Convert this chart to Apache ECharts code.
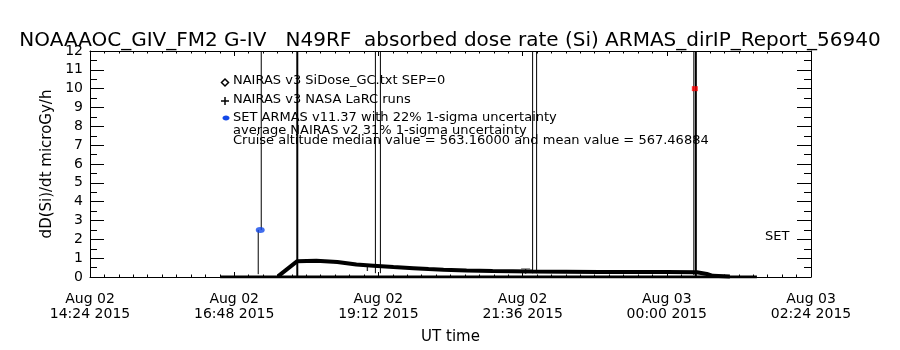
<!DOCTYPE html>
<html>
<head>
<meta charset="utf-8">
<script src="https://cdn.jsdelivr.net/npm/echarts@6/dist/echarts.min.js"></script>
<style>
html,body{margin:0;padding:0;background:#fff;}
#chart{width:900px;height:350px;}
</style>
</head>
<body>
<div id="chart"></div>
<script>
// ---------- data (times are UT, 2015) ----------
const titleText = "NOAAAOC_GIV_FM2 G-IV   N49RF  absorbed dose rate (Si) ARMAS_dirIP_Report_56940";
const yAxisName = "dD(Si)/dt microGy/h";
const xAxisName = "UT time";
const xMinTime = "08-02 14:24";
const xMaxTime = "08-03 02:24";
const xTickStepMin = 144;

// NAIRAS v3 SiDose_GC model curve
const nairasTimes = ["08-02 17:32","08-02 17:51","08-02 18:10","08-02 18:31","08-02 18:50","08-02 19:07","08-02 19:27","08-02 19:47","08-02 20:02","08-02 20:17","08-02 20:40","08-02 21:06","08-02 21:46","08-02 22:53","08-03 00:00","08-03 00:30","08-03 00:40","08-03 00:46","08-03 01:03"];
const nairasValues = [0.05,0.84,0.86,0.80,0.66,0.60,0.53,0.47,0.42,0.38,0.35,0.32,0.29,0.27,0.26,0.25,0.16,0.06,0.03];

// ARMAS record at zero level
const baseTimes = ["08-02 16:34","08-03 01:30"];
const baseValues = [0,0];

// NAIRAS v3 NASA LaRC runs
const larcTimes = ["08-02 19:01","08-02 21:39"];
const larcValues = [0.45,0.3];

// SET ARMAS points
const armasTimes = ["08-02 17:14"];
const armasValues = [2.5];
const peakTimes = ["08-03 00:28"];
const peakValues = [10];

// ARMAS uncertainty bars (time, low, high)
const thinBarTimes = ["08-02 17:12","08-02 17:15","08-02 19:09","08-02 19:14","08-02 21:46","08-02 21:50","08-03 00:27"];
const thinBarLows  = [0.15,2.5,0.2,0.2,0.2,0.2,0.1];
const thinBarHighs = [2.5,12,12,12,12,12,12];
const thickBarTimes = ["08-02 17:51","08-03 00:29"];
const thickBarLows  = [0,0];
const thickBarHighs = [12,12];

const annotations = [
  "NAIRAS v3 SiDose_GC.txt SEP=0",
  "NAIRAS v3 NASA LaRC runs",
  "SET ARMAS v11.37 with 22% 1-sigma uncertainty",
  "average NAIRAS v2 31% 1-sigma uncertainty",
  "Cruise altitude median value = 563.16000 and mean value = 567.46884"
];
const cornerLabel = "SET";

// ---------- helpers ----------
// minutes since 2015-08-02 00:00 UT
function toMin(s){
  const [md, hm] = s.split(" ");
  const day = parseInt(md.split("-")[1],10);
  const [h,m] = hm.split(":").map(Number);
  return (day-2)*1440 + h*60 + m;
}
function pad(n){return (n<10?"0":"")+n;}
function fmtTick(v){
  const day = 2 + Math.floor(v/1440);
  const rem = ((v%1440)+1440)%1440;
  const h = Math.floor(rem/60), m = Math.round(rem%60);
  return "Aug " + pad(day) + "\n" + pad(h) + ":" + pad(m) + " 2015";
}
function pairs(ts, vs){return ts.map((t,i)=>[toMin(t), vs[i]]);}
function bars(ts, lo, hi){return ts.map((t,i)=>[toMin(t), lo[i], hi[i]]);}

const FONT = "DejaVu Sans";
const chart = echarts.init(document.getElementById('chart'), null, {renderer:'canvas'});

function barRenderer(width){
  return function(params, api){
    const p1 = api.coord([api.value(0), api.value(1)]);
    const p2 = api.coord([api.value(0), api.value(2)]);
    return {type:'line', shape:{x1:p1[0],y1:p1[1],x2:p2[0],y2:p2[1]}, style:{stroke:'#000', lineWidth:width}};
  };
}

const xMin = toMin(xMinTime), xMax = toMin(xMaxTime);
const commonX = {
  type:'value', min:xMin, max:xMax, interval:xTickStepMin,
  axisLine:{show:true, onZero:false, lineStyle:{color:'#000', width:1}},
  splitLine:{show:false},
  axisTick:{show:true, inside:true, length:5, lineStyle:{color:'#000'}},
  minorTick:{show:true, splitNumber:10, length:2.5, lineStyle:{color:'#000'}}
};
const commonY = {
  type:'value', min:0, max:12, interval:1,
  axisLine:{show:true, onZero:false, lineStyle:{color:'#000', width:1}},
  splitLine:{show:false},
  axisTick:{show:true, inside:true, length:14, lineStyle:{color:'#000'}},
  minorTick:{show:true, splitNumber:2, length:7, lineStyle:{color:'#000'}}
};
const annFont = '13px "DejaVu Sans"';

const option = {
  backgroundColor:'#fff',
  animation:false,
  title:{
    text:titleText, left:'center', top:26,
    textStyle:{fontFamily:FONT, fontSize:20, fontWeight:'normal', color:'#000'}
  },
  grid:{left:90, right:89, top:51, bottom:71},
  xAxis:[
    Object.assign({}, commonX, {
      position:'bottom',
      name:xAxisName, nameLocation:'middle', nameGap:53,
      nameTextStyle:{fontFamily:FONT, fontSize:15, color:'#000'},
      axisLabel:{show:true, margin:15, formatter:fmtTick, fontFamily:FONT, fontSize:14, lineHeight:15, color:'#000', showMinLabel:true, showMaxLabel:true}
    }),
    Object.assign({}, commonX, {position:'top', axisLabel:{show:false}})
  ],
  yAxis:[
    Object.assign({}, commonY, {
      position:'left',
      name:yAxisName, nameLocation:'middle', nameGap:35, nameRotate:90,
      nameTextStyle:{fontFamily:FONT, fontSize:15, color:'#000'},
      axisLabel:{show:true, margin:7, fontFamily:FONT, fontSize:14, color:'#000', showMinLabel:true, showMaxLabel:true}
    }),
    Object.assign({}, commonY, {position:'right', axisLabel:{show:false}})
  ],
  series:[
    {name:'ARMAS zero level', type:'line', data:pairs(baseTimes, baseValues), symbol:'none',
     lineStyle:{color:'#000', width:3}, z:3},
    {name:'NAIRAS v3 SiDose_GC.txt SEP=0', type:'line', data:pairs(nairasTimes, nairasValues), symbol:'none',
     lineStyle:{color:'#000', width:4}, z:4},
    {name:'ARMAS bars thin', type:'custom', renderItem:barRenderer(1), data:bars(thinBarTimes, thinBarLows, thinBarHighs),
     encode:{x:0, y:[1,2]}, clip:true, z:5},
    {name:'ARMAS bars thick', type:'custom', renderItem:barRenderer(2), data:bars(thickBarTimes, thickBarLows, thickBarHighs),
     encode:{x:0, y:[1,2]}, clip:true, z:5},
    {name:'NAIRAS v3 NASA LaRC runs', type:'scatter', data:pairs(larcTimes, larcValues),
     symbol:'path://M0,0L10,0M5,0L5,6', symbolSize:[9,5], itemStyle:{color:'none', borderColor:'#000', borderWidth:1}, z:6},
    {name:'SET ARMAS v11.37', type:'scatter', data:pairs(armasTimes, armasValues),
     symbol:'circle', symbolSize:[9,6], itemStyle:{color:'#1248e8'}, z:7},
    {name:'ARMAS peak', type:'scatter', data:pairs(peakTimes, peakValues),
     symbol:'rect', symbolSize:[6,5], itemStyle:{color:'#ff0000'}, z:7}
  ],
  graphic:[
    {type:'polygon', shape:{points:[[225,79],[228.5,82.5],[225,86],[221.5,82.5]]}, style:{fill:'none', stroke:'#000', lineWidth:1.5}},
    {type:'line', shape:{x1:221,y1:101,x2:229,y2:101}, style:{stroke:'#000', lineWidth:1.5}},
    {type:'line', shape:{x1:225,y1:97,x2:225,y2:105}, style:{stroke:'#000', lineWidth:1.5}},
    {type:'ellipse', shape:{cx:226, cy:118, rx:3.5, ry:2.5}, style:{fill:'#1248e8'}},
    {type:'text', x:233, y:81, style:{text:annotations[0], font:annFont, fill:'#000', textVerticalAlign:'middle'}},
    {type:'text', x:233, y:100, style:{text:annotations[1], font:annFont, fill:'#000', textVerticalAlign:'middle'}},
    {type:'text', x:233, y:118, style:{text:annotations[2], font:annFont, fill:'#000', textVerticalAlign:'middle'}},
    {type:'text', x:233, y:131, style:{text:annotations[3], font:annFont, fill:'#000', textVerticalAlign:'middle'}},
    {type:'text', x:233, y:141, style:{text:annotations[4], font:annFont, fill:'#000', textVerticalAlign:'middle'}},
    {type:'text', x:765, y:237, style:{text:cornerLabel, font:annFont, fill:'#000', textVerticalAlign:'middle'}}
  ]
};
chart.setOption(option);
</script>
</body>
</html>
